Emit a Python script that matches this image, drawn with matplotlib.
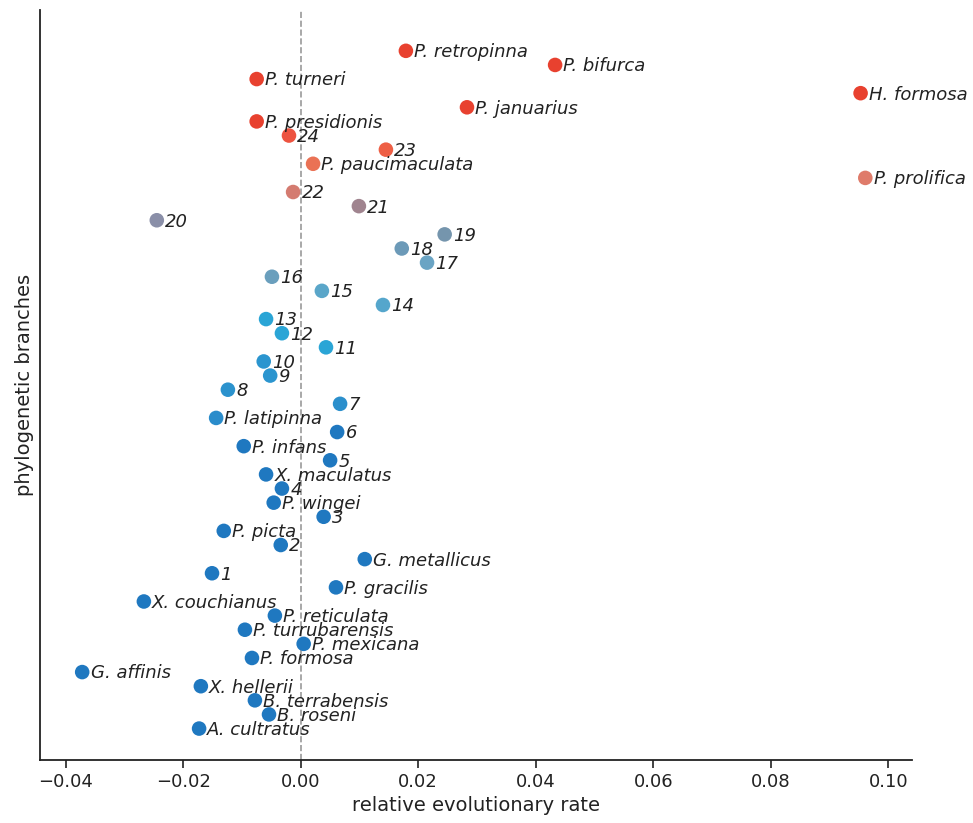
import matplotlib
matplotlib.use("Agg")
import matplotlib.pyplot as plt

labels = ["P. retropinna","P. bifurca","P. turneri","H. formosa","P. januarius","P. presidionis","24","23",
"P. paucimaculata","P. prolifica","22","21","20","19","18","17","16","15","14","13","12","11","10","9","8","7",
"P. latipinna","6","P. infans","5","X. maculatus","4","P. wingei","3","P. picta","2","G. metallicus","1",
"P. gracilis","X. couchianus","P. reticulata","P. turrubarensis","P. mexicana","P. formosa","G. affinis",
"X. hellerii","B. terrabensis","B. roseni","A. cultratus"]
rates = [0.0179,0.0433,-0.0075,0.0953,0.0283,-0.0075,-0.0020,0.0145,0.0021,0.0961,-0.0013,0.0099,-0.0245,
0.0245,0.0172,0.0215,-0.0049,0.0036,0.0140,-0.0059,-0.0032,0.0043,-0.0063,-0.0052,-0.0124,0.0067,
-0.0144,0.0062,-0.0097,0.0050,-0.0059,-0.0032,-0.0046,0.0039,-0.0131,-0.0034,0.0109,-0.0151,0.0060,
-0.0267,-0.0044,-0.0095,0.0005,-0.0083,-0.0372,-0.0170,-0.0078,-0.0054,-0.0173]
red = "#e8412f"; blue = "#1f78c0"
colors = [red,red,red,red,red,red,"#ed5340","#ee5f45","#ea7255","#df7b6a","#d47b70","#a0848f","#8a8fa8",
"#7595ad","#6c9ab8","#6aa4c4","#6a9fbd","#5aa6c9","#55a6cc","#2aa5d6","#2aa5d6","#2aa5d6","#2b95cf",
"#2b95cf","#2b92cd","#2b8fcc","#2a8ccb"] + [blue]*22

n = len(labels)
ys = [n - 1 - i for i in range(n)]

fig, ax = plt.subplots(figsize=(9.73, 8.23), dpi=100)
fig.subplots_adjust(left=0.041, right=0.937, top=0.988, bottom=0.077)
ax.axvline(0, color="#999999", ls="--", lw=1.2, zorder=0)
ax.scatter(rates, ys, c=colors, s=110, zorder=3, edgecolors="none")
for x, y, t in zip(rates, ys, labels):
    ax.annotate(t, (x, y), xytext=(6, -1), textcoords="offset points", va="center", ha="left",
                fontsize=13, style="italic", color="#222222")
ax.set_xlim(-0.0444, 0.1040)
ax.set_ylim(-2.2, n + 1.9)
ax.set_yticks([])
ax.set_xticks([-0.04,-0.02,0.0,0.02,0.04,0.06,0.08,0.10])
ax.set_xticklabels(["\u22120.04","\u22120.02","0.00","0.02","0.04","0.06","0.08","0.10"])
ax.tick_params(axis="x", labelsize=13, length=6, width=1.2, colors="#222222")
ax.set_xlabel("relative evolutionary rate", fontsize=14, color="#222222")
ax.set_ylabel("phylogenetic branches", fontsize=14, color="#222222")
for s in ["top","right"]:
    ax.spines[s].set_visible(False)
for s in ["left","bottom"]:
    ax.spines[s].set_linewidth(1.3)
    ax.spines[s].set_color("#222222")
fig.savefig("out.png", dpi=100)
